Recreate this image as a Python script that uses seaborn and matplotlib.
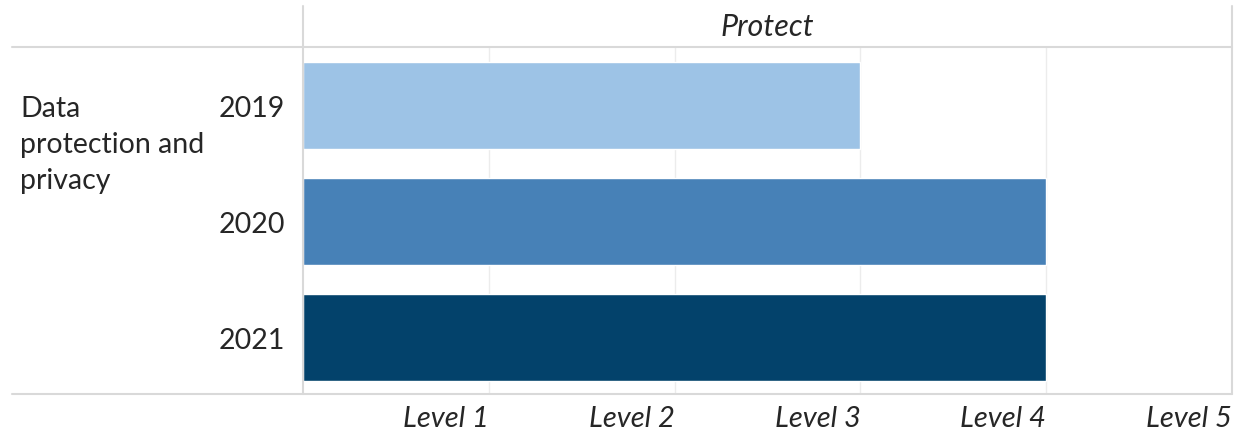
import matplotlib
matplotlib.use("Agg")
import matplotlib.pyplot as plt
from matplotlib.lines import Line2D
import seaborn as sns
import pandas as pd

# ---- data ----
years = ["2019", "2020", "2021"]
levels = [3, 4, 4]
level_labels = ["Level 1", "Level 2", "Level 3", "Level 4", "Level 5"]
level_ticks = [1, 2, 3, 4, 5]
category = "Data\nprotection and\nprivacy"
header = "Protect"

palette = ["#9DC3E6", "#4781B7", "#03426B"]

sns.set_theme(style="white")
plt.rcParams["font.family"] = ["Lato", "DejaVu Sans"]

W, H = 1239, 435
fig = plt.figure(figsize=(W / 100, H / 100), dpi=100)
L, R, T, B = 303, 1232, 48, 395
ax = fig.add_axes([L / W, 1 - B / H, (R - L) / W, (B - T) / H])

df = pd.DataFrame({"year": years, "level": levels})
sns.barplot(data=df, x="level", y="year", hue="year", palette=palette,
            orient="h", width=0.75, dodge=False, legend=False, ax=ax,
            saturation=1)

ax.set_xlim(0, 5)
ax.set_ylim(2.49, -0.5)
ax.set_xlabel("")
ax.set_ylabel("")
for s in ax.spines.values():
    s.set_visible(False)

# gridlines
for x in level_ticks[:-1]:
    ax.axvline(x, color="#ececec", lw=1, zorder=0)

ax.set_xticks(level_ticks)
ax.set_xticklabels(level_labels, fontsize=21, style="italic", ha="right")
ax.tick_params(axis="x", length=0, pad=8)
ax.set_yticks(range(len(years)))
ax.set_yticklabels(years, fontsize=20.5)
ax.tick_params(axis="y", length=0, pad=13)

# frame lines in figure coordinates
lc = "#d9d9d9"
def hline(y, x0, x1):
    fig.add_artist(Line2D([x0 / W, x1 / W], [1 - y / H, 1 - y / H], color=lc, lw=1.5))
def vline(x, y0, y1):
    fig.add_artist(Line2D([x / W, x / W], [1 - y0 / H, 1 - y1 / H], color=lc, lw=1.5))

hline(T, 12, R)
hline(B, 12, R)
vline(L, 7, B)
vline(R, 7, B)

fig.text((L + R) / 2 / W, 1 - 27 / H, header, fontsize=22, style="italic",
         ha="center", va="center")
fig.text(20 / W, 1 - 145 / H, category, fontsize=20.5, ha="left", va="center",
         linespacing=1.47)

fig.savefig("out.png", dpi=100)
